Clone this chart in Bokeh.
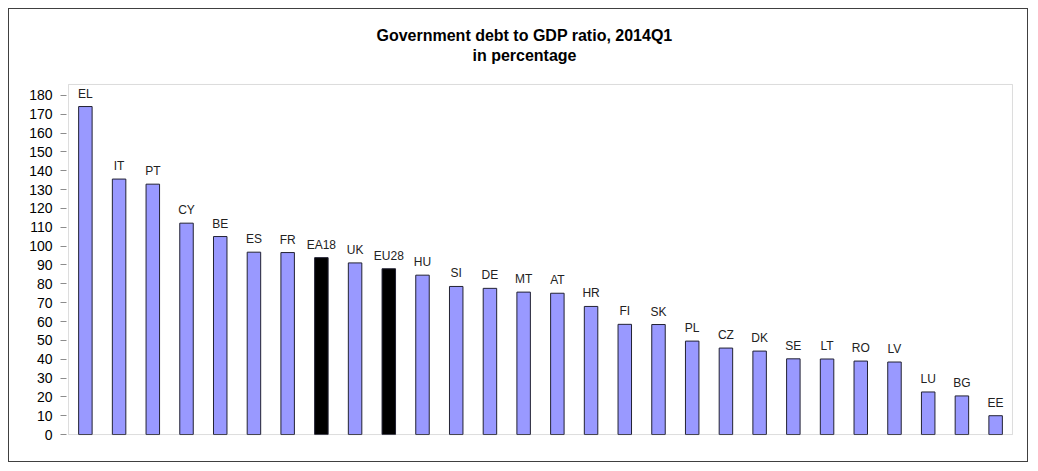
from bokeh.plotting import figure
from bokeh.models import ColumnDataSource, Range1d, FactorRange, FixedTicker, Label, BoxAnnotation
from bokeh.core.properties import value
from bokeh.embed import file_html
from bokeh.resources import INLINE

categories = ["EL", "IT", "PT", "CY", "BE", "ES", "FR", "EA18", "UK", "EU28", "HU", "SI", "DE", "MT",
              "AT", "HR", "FI", "SK", "PL", "CZ", "DK", "SE", "LT", "RO", "LV", "LU", "BG", "EE"]
debt_ratio = [174.1, 135.6, 132.9, 112.2, 105.1, 96.8, 96.6, 93.9, 91.1, 88.0, 84.6, 78.6, 77.6, 75.6,
              75.0, 68.0, 58.5, 58.4, 49.6, 45.9, 44.3, 40.2, 40.1, 39.0, 38.5, 22.6, 20.5, 10.0]
aggregates = ["EA18", "EU28"]
y_ticks = list(range(0, 181, 10))
title_line1 = "Government debt to GDP ratio, 2014Q1"
title_line2 = "in percentage"

FONT = "Liberation Sans"
AXIS_TOP = 185.8      # top of the visible plot box (data units)
CANVAS_TOP = 225.6    # top of the drawing area, leaves room for the title
colors = ["#000000" if c in aggregates else "#9999FF" for c in categories]
source = ColumnDataSource(dict(cat=categories, val=debt_ratio, color=colors))

xr = FactorRange(*categories, range_padding=0.06, range_padding_units="absolute")
p = figure(width=1020, height=454, output_backend="svg", toolbar_location=None,
           x_range=xr, y_range=Range1d(-0.5, CANVAS_TOP),
           min_border_left=57, min_border_right=15, min_border_top=0, min_border_bottom=28)
p.styles = {"border": "1px solid #404040", "margin-left": "8px", "margin-top": "8px"}
p.background_fill_color = "white"
p.border_fill_color = "white"
p.outline_line_color = None
p.grid.visible = False
p.xaxis.visible = False

# visible plot-area box (synthetic categorical coordinates 0..N)
p.add_layout(BoxAnnotation(left=0, right=len(categories), bottom=0, top=AXIS_TOP,
                           fill_alpha=0, line_color="#8c8c8c", line_width=1))

p.vbar(x="cat", top="val", width=0.4, source=source, fill_color="color",
       line_color="#222233", line_width=1)
p.text(x="cat", y="val", text="cat", source=source, text_align="center",
       text_baseline="bottom", y_offset=-6, text_font=value(FONT),
       text_font_size="12px", text_color="#222222")

ax = p.yaxis[0]
ax.ticker = FixedTicker(ticks=y_ticks)
ax.minor_tick_line_color = None
ax.axis_line_color = None
ax.major_tick_line_color = "#8c8c8c"
ax.major_tick_out = 6
ax.major_tick_in = 0
ax.major_label_standoff = 8
ax.major_label_text_font = FONT
ax.major_label_text_font_size = "14px"
ax.major_label_text_color = "#000000"

for txt, ty in [(title_line1, 211.6), (title_line2, 201.0)]:
    p.add_layout(Label(x=458, y=ty, x_units="screen", y_units="data", text=txt,
                       text_align="center", text_baseline="middle", text_font=FONT,
                       text_font_size="16px", text_font_style="bold", text_color="#000000"))

open("out.html", "w").write(file_html(p, INLINE))
